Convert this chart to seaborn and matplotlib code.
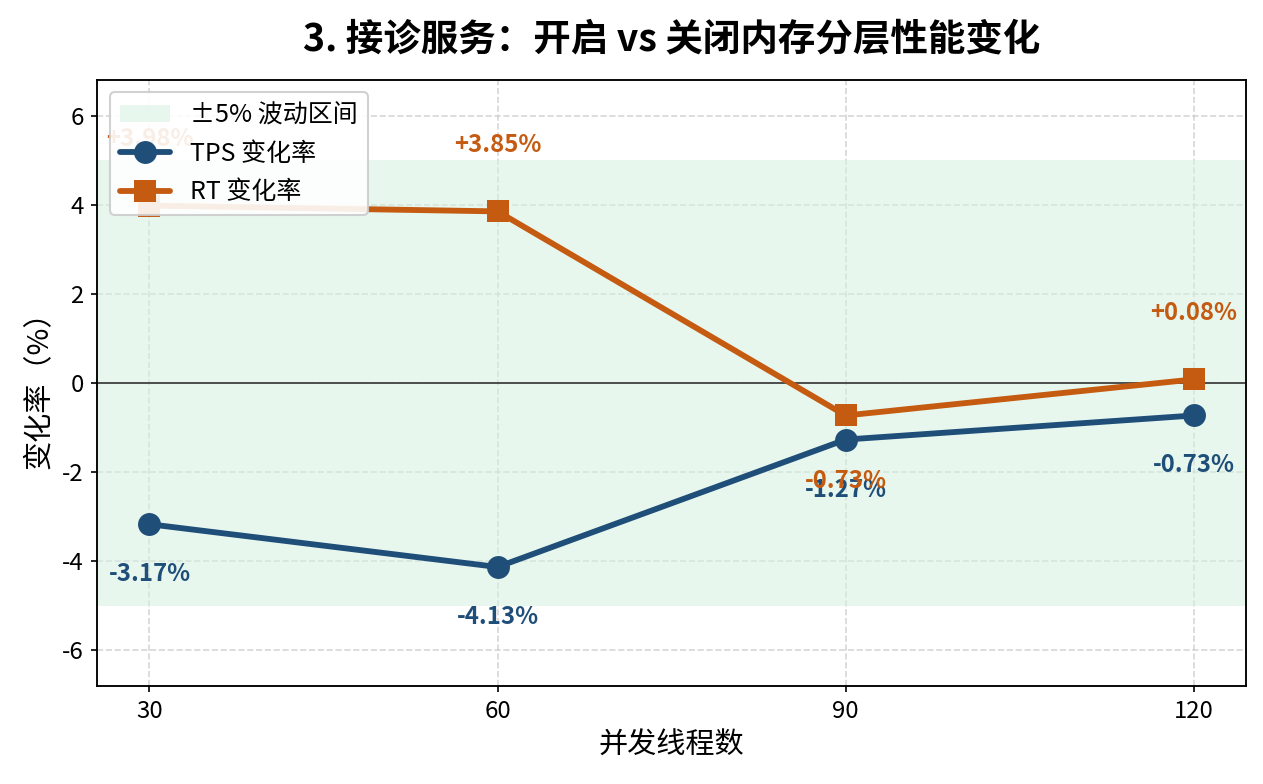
import numpy as np
import pandas as pd
import matplotlib
matplotlib.use("Agg")
import matplotlib.pyplot as plt
import seaborn as sns

threads = [30, 60, 90, 120]
tps_change = [-3.17, -4.13, -1.27, -0.73]
rt_change = [3.98, 3.85, -0.73, 0.08]

tps_color = "#1f4e79"
rt_color = "#c55a11"

sns.set_style("white")
plt.rcParams['font.family'] = ['Noto Sans CJK SC', 'DejaVu Sans']
plt.rcParams['axes.unicode_minus'] = False
plt.rcParams['text.color'] = 'black'
plt.rcParams['axes.labelcolor'] = 'black'
plt.rcParams['xtick.color'] = 'black'
plt.rcParams['ytick.color'] = 'black'

df = pd.DataFrame({"threads": threads, "tps": tps_change, "rt": rt_change})

fig, ax = plt.subplots(figsize=(8.42, 5.227), dpi=150)

ax.axhspan(-5, 5, color="#d5f2df", alpha=0.55, label="±5% 波动区间", lw=0)
ax.axhline(0, color="#333333", lw=0.8)

sns.lineplot(data=df, x="threads", y="tps", ax=ax, color=tps_color, lw=2.8,
             marker="o", markersize=11, markeredgewidth=0, label="TPS 变化率")
sns.lineplot(data=df, x="threads", y="rt", ax=ax, color=rt_color, lw=2.8,
             marker="s", markersize=11, markeredgewidth=0, label="RT 变化率")

for x, y in zip(threads, tps_change):
    ax.text(x, y - 1.12, f"{y:+.2f}%" if y > 0 else f"{y:.2f}%", ha="center", va="center",
            color=tps_color, fontsize=11.5, fontweight="bold")
for x, y in zip(threads, rt_change):
    off = 1.5 if y >= 0 else -1.47
    ax.text(x, y + off, f"{y:+.2f}%", ha="center", va="center",
            color=rt_color, fontsize=11.5, fontweight="bold")

ax.set_ylim(-6.8, 6.8)
ax.set_yticks([-6, -4, -2, 0, 2, 4, 6])
ax.set_xticks(threads)
ax.grid(True, ls="--", color="#cccccc", alpha=0.8)
for s in ax.spines.values():
    s.set_color("black")
    s.set_linewidth(0.9)
ax.tick_params(labelsize=11.5, length=3, left=True, bottom=True)

ax.set_xlabel("并发线程数", fontsize=14)
ax.set_ylabel("变化率（%）", fontsize=14)
ax.set_title("3. 接诊服务：开启 vs 关闭内存分层性能变化", fontsize=18, fontweight="bold", pad=14)

leg = ax.legend(loc="upper left", fontsize=12, framealpha=0.9)
leg.set_zorder(5)

fig.subplots_adjust(left=0.077, right=0.9865, top=0.898, bottom=0.125)
plt.savefig("out.png", dpi=150)
